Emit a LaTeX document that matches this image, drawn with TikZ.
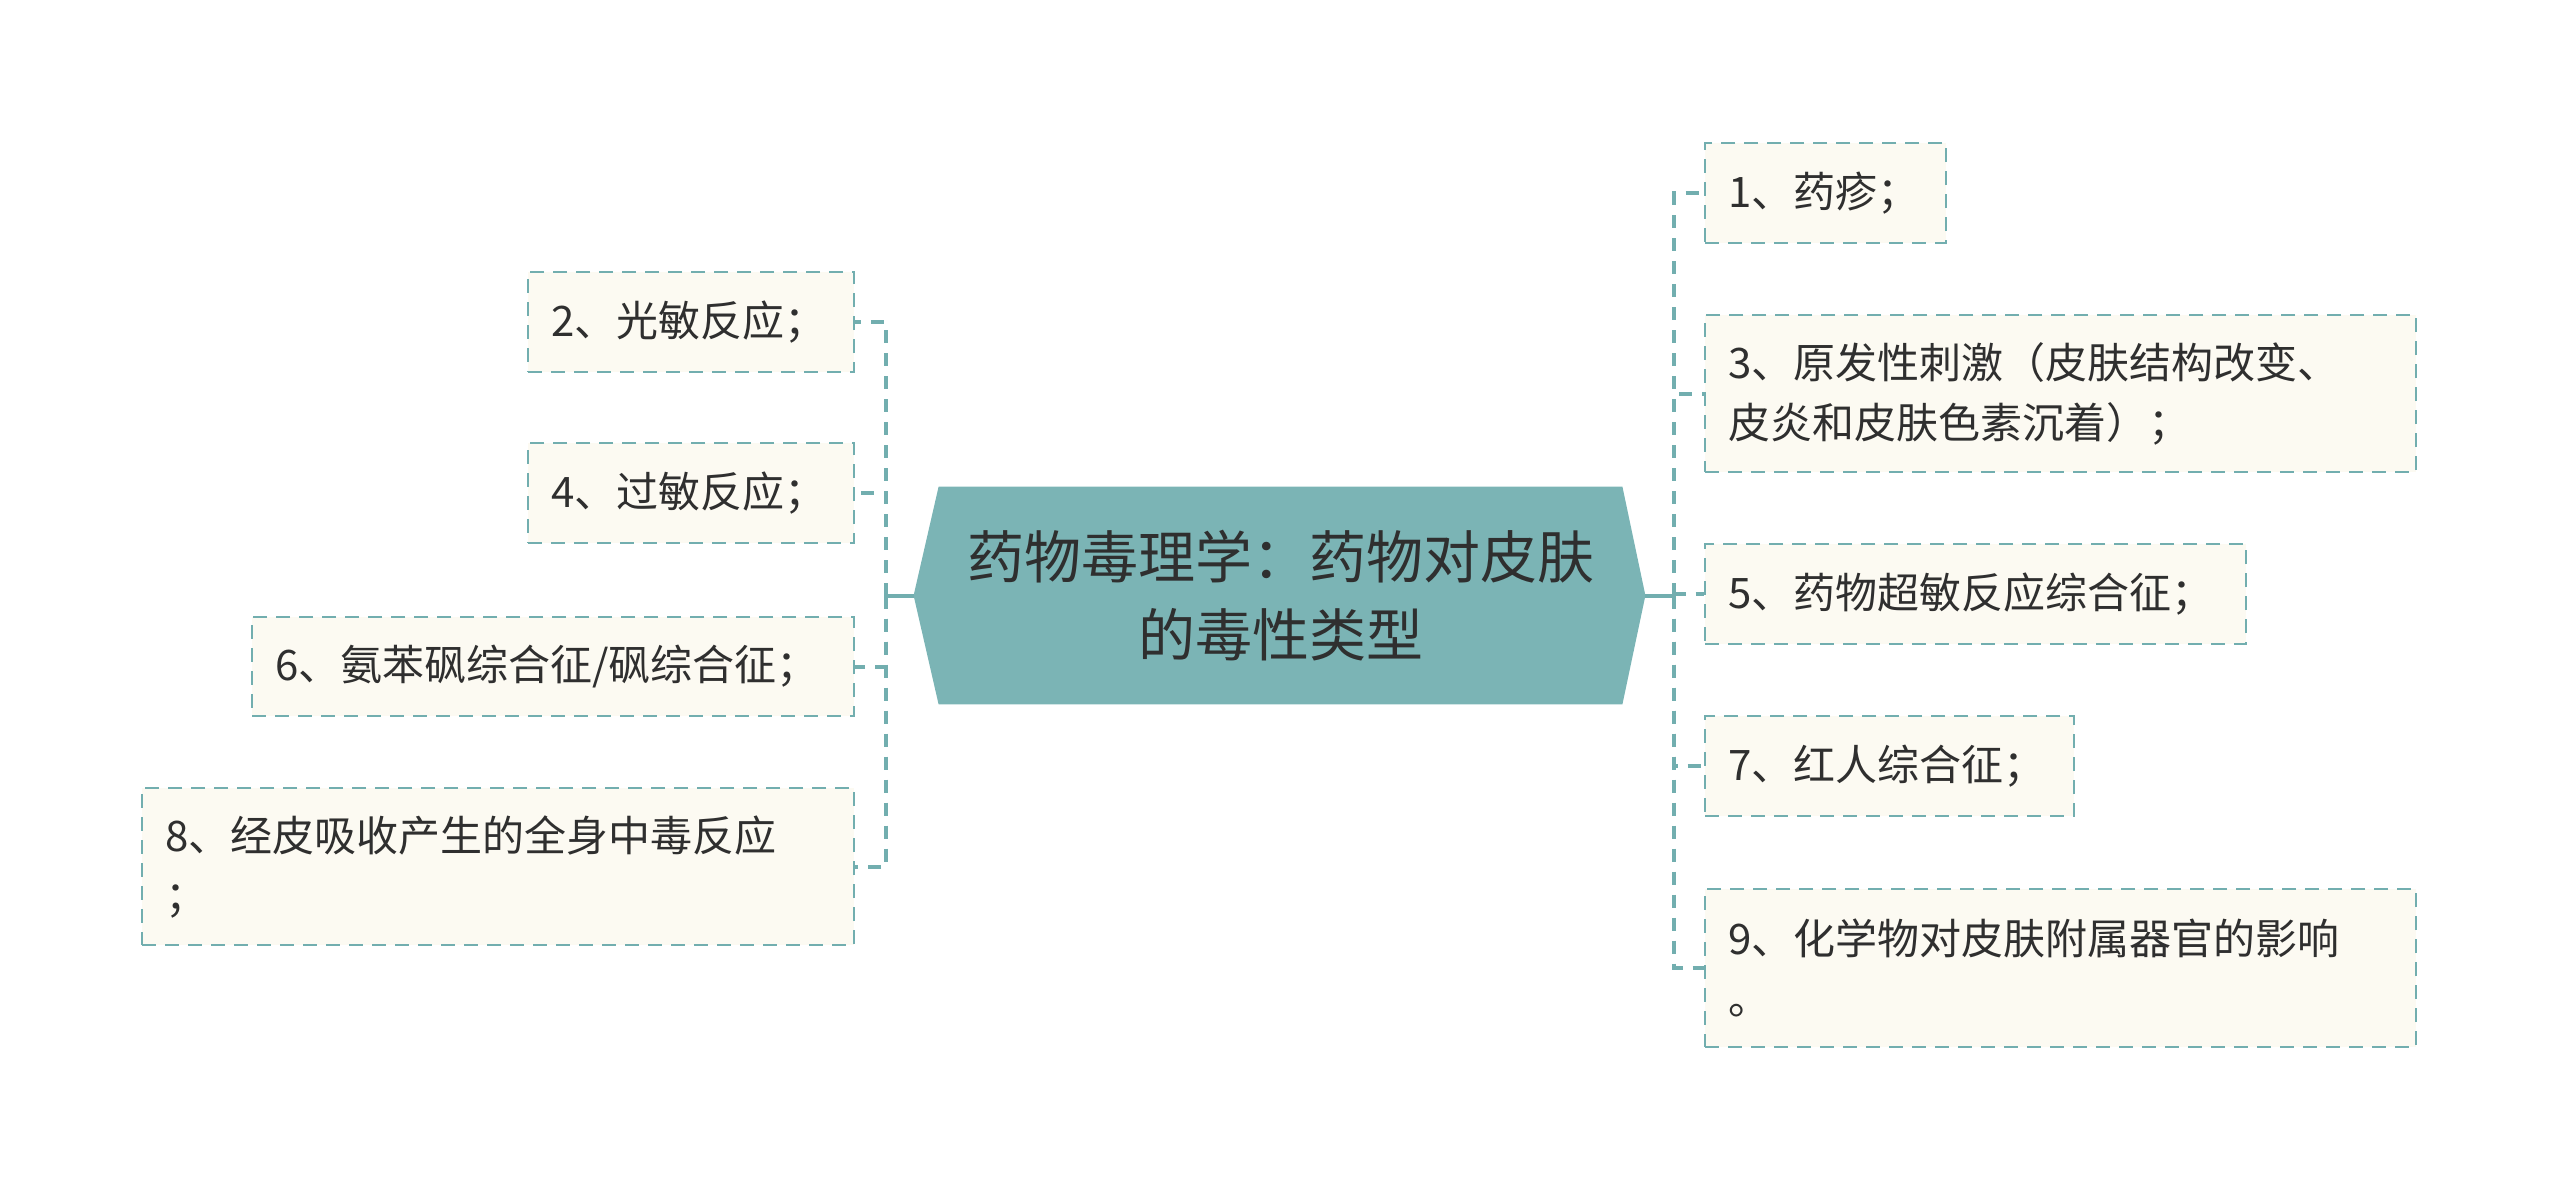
\documentclass[tikz,border=0pt]{standalone}
\usepackage{fontspec}
\newfontfamily\cjk{Noto Sans CJK SC}
\usetikzlibrary{backgrounds}
\definecolor{lineC}{HTML}{72AEAF}
\definecolor{hexC}{HTML}{7BB4B5}
\definecolor{boxC}{HTML}{FCFAF2}
\definecolor{txtC}{HTML}{2F2F2F}
\begin{document}
\begin{tikzpicture}[x=0.5pt,y=-0.5pt,
  leaf/.style={draw=lineC, dash pattern=on 7pt off 4.5pt, line width=1.4pt, fill=boxC,
    inner xsep=11.5pt, inner ysep=0pt, align=left, anchor=center,
    font=\cjk\fontsize{21pt}{30pt}\selectfont, text=txtC},
  conn/.style={draw=lineC, line width=2pt, dash pattern=on 6.5pt off 5pt},
  solidconn/.style={draw=lineC, line width=2pt},
  title/.style={align=center, inner sep=0pt, minimum width=341.5pt, minimum height=108.5pt,
    font=\cjk\fontsize{28.5pt}{39pt}\selectfont, text=txtC}]
\useasboundingbox (0,0) rectangle (2560,1189);
% centre
\node[title] (c) at (1280.5,595.5) {药物毒理学：药物对皮肤\\的毒性类型};
\begin{pgfonlayer}{background}
\fill[hexC] (c.north west) -- (c.north east) -- ([xshift=11.5pt]c.east) -- (c.south east)
  -- (c.south west) -- ([xshift=-12.5pt]c.west) -- cycle;
\end{pgfonlayer}
\coordinate (hexL) at ([xshift=-12.5pt]c.west);
\coordinate (hexR) at ([xshift=11.5pt]c.east);
% left leaves
\node[leaf, text width=140pt, minimum height=50pt] (b2) at (691,322) {2、光敏反应；};
\node[leaf, text width=140pt, minimum height=50pt] (b4) at (691,493) {4、过敏反应；};
\node[leaf, text width=278pt, minimum height=49.5pt] (b6) at (553,666.5) {6、氨苯砜综合征/砜综合征；};
\node[leaf, text width=333pt, minimum height=78.5pt] (b8) at (498,866.5) {8、经皮吸收产生的全身中毒反应\\；};
% right leaves
\node[leaf, text width=97.5pt, minimum height=50pt] (b1) at (1825.5,193) {1、药疹；};
\node[leaf, text width=332.5pt, minimum height=78.5pt] (b3) at (2060.5,393.5) {3、原发性刺激（皮肤结构改变、\\皮炎和皮肤色素沉着）；};
\node[leaf, text width=247.5pt, minimum height=50pt] (b5) at (1975.5,594) {5、药物超敏反应综合征；};
\node[leaf, text width=161.5pt, minimum height=50pt] (b7) at (1889.5,766) {7、红人综合征；};
\node[leaf, text width=332.5pt, minimum height=79pt] (b9) at (2060.5,968) {9、化学物对皮肤附属器官的影响\\。};
% connectors
\coordinate (tl) at (886,595.5);
\coordinate (tr) at (1674,595.5);
\draw[solidconn] (hexL) -- (tl);
\draw[solidconn] (hexR) -- (tr);
\foreach \b in {b2,b4,b6,b8} \draw[conn] (tl) |- (\b.east);
\foreach \b in {b1,b3,b5,b7,b9} \draw[conn] (tr) |- (\b.west);
\end{tikzpicture}
\end{document}
